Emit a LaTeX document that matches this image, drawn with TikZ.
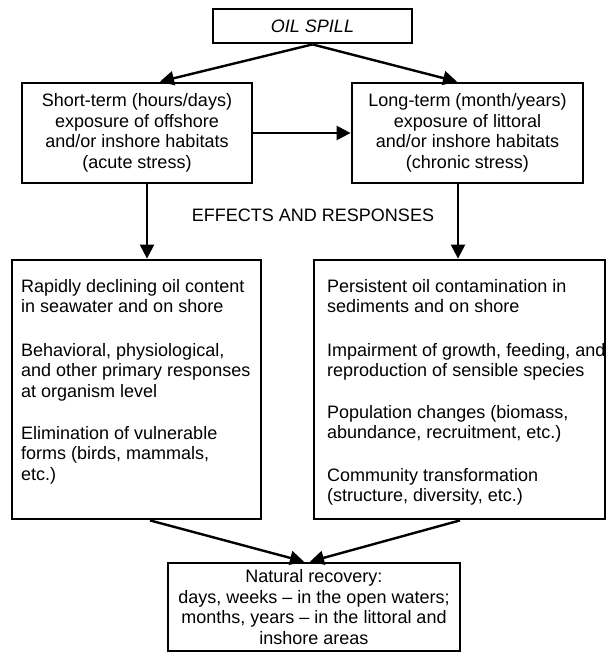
\documentclass[tikz,border=0pt]{standalone}
\usepackage{fontspec}
\setmainfont{Liberation Sans}
\usetikzlibrary{arrows.meta}
\begin{document}
\begin{tikzpicture}[x=1pt,y=1pt,
  box/.style={draw, line width=2.8pt, inner sep=0pt},
  conn/.style={line width=2.4pt, -{Triangle[length=14pt,width=14pt]}},
  txt/.style={font=\fontsize{18}{20.5}\selectfont, inner sep=0pt},
  para/.style={txt, align=left, anchor=north west}
]
\useasboundingbox (0,0) rectangle (607,-652);
\node[box, txt, minimum width=199pt, minimum height=34pt] (spill) at (312.5,-26) {\itshape OIL SPILL};
\node[box, txt, align=center, minimum width=230pt, minimum height=100pt] (short) at (137,-133)
  {Short-term (hours/days)\\exposure of offshore\\and/or inshore habitats\\(acute stress)};
\node[box, txt, align=center, minimum width=231pt, minimum height=100pt] (long) at (467.5,-133)
  {Long-term (month/years)\\exposure of littoral\\and/or inshore habitats\\(chronic stress)};
\node[txt] (effects) at (313,-215) {EFFECTS AND RESPONSES};
\node[box, minimum width=249pt, minimum height=259pt] (acute) at (136.5,-389.5) {};
\node[box, minimum width=291pt, minimum height=259pt] (chronic) at (459.5,-389.5) {};
\node[box, txt, align=center, minimum width=292pt, minimum height=88pt] (recovery) at (314,-607)
  {Natural recovery:\\days, weeks – in the open waters;\\months, years – in the littoral and\\inshore areas};
\node[para] (acuteA) at (21,-279) {Rapidly declining oil content\\in seawater and on shore};
\node[para] (acuteB) at (21,-343) {Behavioral, physiological,\\and other primary responses\\at organism level};
\node[para] (acuteC) at (21,-426) {Elimination of vulnerable\\forms (birds, mammals,\\etc.)};
\node[para] (chronicA) at (327,-279) {Persistent oil contamination in\\sediments and on shore};
\node[para] (chronicB) at (327,-343) {Impairment of growth, feeding, and\\reproduction of sensible species};
\node[para] (chronicC) at (327,-405) {Population changes (biomass,\\abundance, recruitment, etc.)};
\node[para] (chronicD) at (327,-468) {Community transformation\\(structure, diversity, etc.)};
\draw[conn] (spill.south) -- ([xshift=23pt]short.north);
\draw[conn] (spill.south) -- ([xshift=-10.5pt]long.north);
\draw[conn] (short.east) -- (long.west);
\draw[conn] ([xshift=10pt]short.south) -- ([xshift=10.5pt]acute.north);
\draw[conn] ([xshift=-9.5pt]long.south) -- ([xshift=-1.5pt]chronic.north);
\draw[conn] ([xshift=13.5pt]acute.south) -- ([xshift=-10pt]recovery.north);
\draw[conn] ([xshift=0.5pt]chronic.south) -- ([xshift=-4pt]recovery.north);
\end{tikzpicture}
\end{document}
